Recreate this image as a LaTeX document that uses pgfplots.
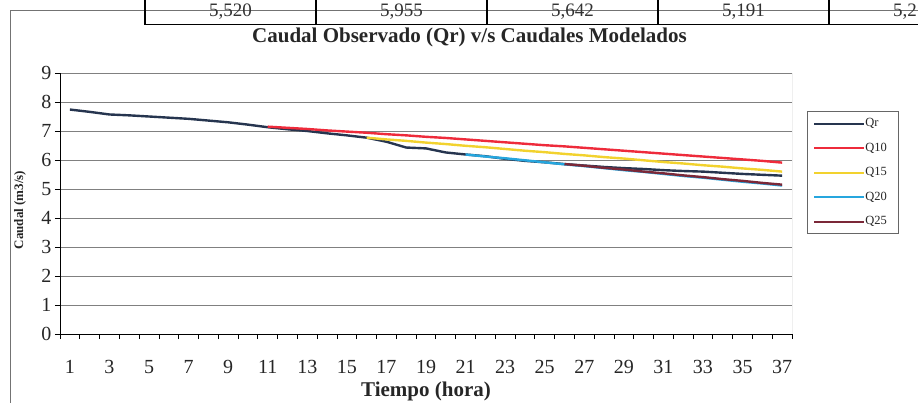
\documentclass[border=0pt]{standalone}
\usepackage{fontspec}
\setmainfont{Liberation Serif}
\usepackage{pgfplots}
\pgfplotsset{compat=1.18}
\definecolor{cQr}{HTML}{26354F}
\definecolor{cQten}{HTML}{EE2B3B}
\definecolor{cQfif}{HTML}{F2D22E}
\definecolor{cQtw}{HTML}{26A6DE}
\definecolor{cQtf}{HTML}{7B2838}
\begin{document}
\begin{tikzpicture}
\useasboundingbox (0,0) rectangle (918bp,403bp);
\begin{scope}
\clip (0,0) rectangle (918bp,403bp);
% outer chart frame
\draw[black!55, line width=0.9bp] (10bp,0bp) -- (10bp,393bp) -- (930bp,393bp);
% table fragment at top
\draw[black, line width=1.4bp] (145bp,410bp) -- (145bp,378.7bp) -- (930bp,378.7bp);
\foreach \x in {316,487,658,829} \draw[black, line width=1.4bp] (\x bp,410bp) -- (\x bp,378.7bp);
\begin{scope}[every node/.style={font=\fontsize{19bp}{23bp}\selectfont, text=black!80, inner sep=0pt}]
\node at (230.5bp,391bp) {5,520};
\node at (401.5bp,391bp) {5,955};
\node at (572.5bp,391bp) {5,642};
\node at (743.5bp,391bp) {5,191};
\node[anchor=west] at (893bp,391bp) {5,2};
\end{scope}
\end{scope}
\begin{axis}[
  at={(60bp,69bp)}, anchor=south west,
  scale only axis, width=732bp, height=261bp,
  xmin=0.5, xmax=37.5, ymin=0, ymax=9,
  axis x line*=bottom, axis y line*=left,
  xtick={1,3,...,37}, minor xtick={0.5,1.5,...,37.5},
  ytick={0,1,...,9},
  tick align=outside,
  major tick length=5bp, minor tick length=5bp,
  major x tick style={draw=none},
  every tick/.style={black, line width=0.8bp},
  minor x tick style={black, line width=0.8bp},
  ymajorgrids,
  major grid style={black!50, line width=0.8bp},
  axis line style={black, line width=1bp},
  /pgf/number format/assume math mode=true,
  tick label style={font=\fontsize{20bp}{24bp}\selectfont, text=black!85},
  xticklabel style={yshift=-18bp},
  title={Caudal Observado (Qr) v/s Caudales Modelados},
  title style={at={(axis description cs:0.5594,1.1456)}, anchor=center, yshift=-8bp, font=\bfseries\fontsize{21bp}{21bp}\selectfont, text=black!85},
  xlabel={Tiempo (hora)},
  xlabel style={at={(axis description cs:0.5,-0.2185)}, anchor=center, font=\bfseries\fontsize{21bp}{21bp}\selectfont, text=black!85},
  ylabel={Caudal (m3/s)},
  ylabel style={at={(axis description cs:-0.0546,0.475)}, anchor=center, font=\bfseries\fontsize{13bp}{13bp}\selectfont, text=black!85},
  no markers,
  legend style={at={(axis description cs:1.0205,0.854)}, anchor=north west, draw=black!60, line width=0.8bp, inner xsep=6bp, inner ysep=6bp, font=\fontsize{12.5bp}{12.5bp}\selectfont, text=black!85, row sep=12.5bp, nodes={inner sep=0bp, text height=9bp, text depth=3bp}, /tikz/every even column/.append style={text width=27bp}},
  legend cell align=left,
  legend image code/.code={\draw[#1, line width=2bp] (0bp,0bp) -- (50bp,0bp);},
]
\draw[black!50, line width=0.8bp] (axis cs:37.5,0) -- (axis cs:37.5,9);
\addplot[cQr, line width=2.4bp] coordinates {
(1,7.74) (2,7.66) (3,7.57) (4,7.54) (5,7.50) (6,7.46) (7,7.42) (8,7.36) (9,7.30) (10,7.22)
(11,7.13) (12,7.06) (13,7.00) (14,6.92) (15,6.85) (16,6.77) (17,6.63) (18,6.43) (19,6.40) (20,6.26)
(21,6.19) (22,6.13) (23,6.04) (24,5.97) (25,5.92) (26,5.86) (27,5.81) (28,5.76) (29,5.72) (30,5.69)
(31,5.65) (32,5.62) (33,5.60) (34,5.56) (35,5.52) (36,5.49) (37,5.46)};
\addlegendentry{Qr}
\addplot[cQten, line width=2.4bp] coordinates {
(11,7.15) (12,7.11) (13,7.07) (14,7.02) (15,6.98) (16,6.94) (17,6.89) (18,6.85) (19,6.80) (20,6.76)
(21,6.71) (22,6.66) (23,6.61) (24,6.56) (25,6.51) (26,6.47) (27,6.42) (28,6.37) (29,6.32) (30,6.27)
(31,6.22) (32,6.17) (33,6.12) (34,6.07) (35,6.02) (36,5.97) (37,5.91)};
\addlegendentry{Q10}
\addplot[cQfif, line width=2.4bp] coordinates {
(16,6.77) (17,6.71) (18,6.66) (19,6.60) (20,6.55) (21,6.49) (22,6.44) (23,6.38) (24,6.32) (25,6.27)
(26,6.21) (27,6.16) (28,6.10) (29,6.05) (30,5.99) (31,5.93) (32,5.88) (33,5.82) (34,5.77) (35,5.71)
(36,5.66) (37,5.60)};
\addlegendentry{Q15}
\addplot[cQtw, line width=2.4bp] coordinates {
(21,6.19) (22,6.12) (23,6.06) (24,5.99) (25,5.92) (26,5.85) (27,5.79) (28,5.72) (29,5.65) (30,5.59)
(31,5.52) (32,5.45) (33,5.39) (34,5.32) (35,5.25) (36,5.19) (37,5.12)};
\addlegendentry{Q20}
\addplot[cQtf, line width=2.4bp] coordinates {
(26,5.86) (27,5.80) (28,5.73) (29,5.67) (30,5.60) (31,5.54) (32,5.47) (33,5.41) (34,5.34) (35,5.28)
(36,5.21) (37,5.15)};
\addlegendentry{Q25}
\end{axis}
\end{tikzpicture}
\end{document}
